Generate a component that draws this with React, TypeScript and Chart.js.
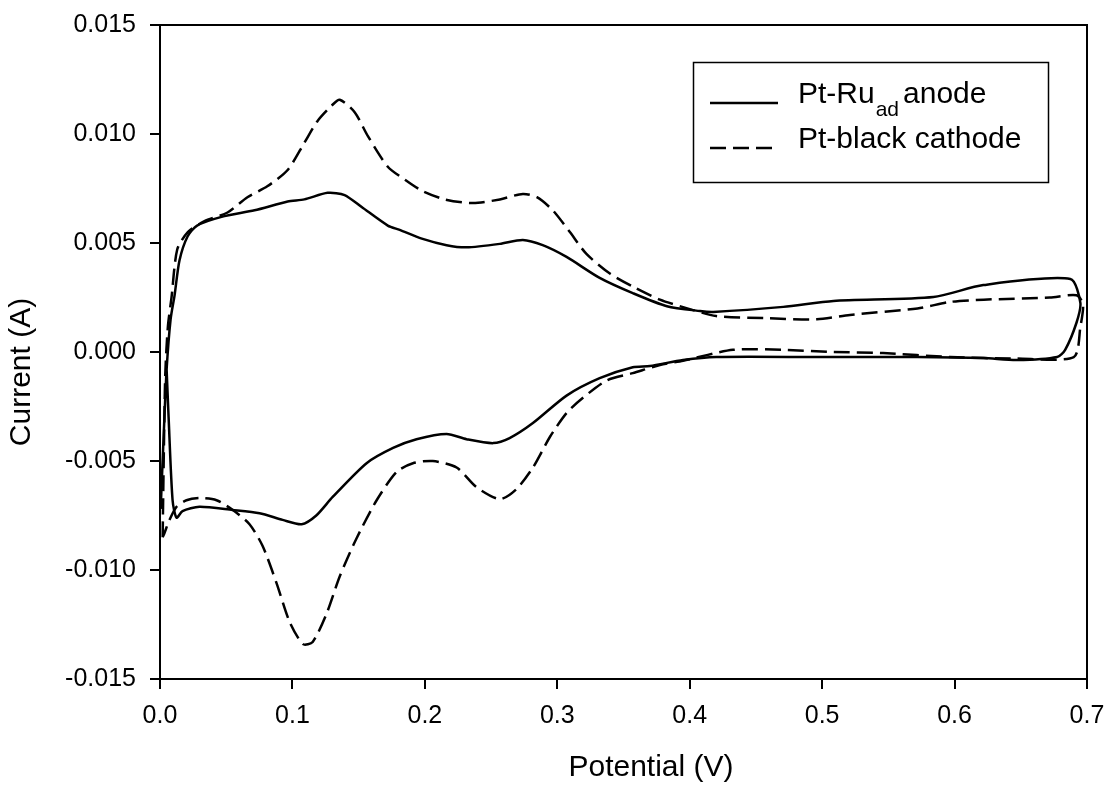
import React, { useEffect, useRef } from "react";
import { Chart, registerables } from "chart.js";

Chart.register(...registerables);

const FONT = '"Liberation Sans", Arial, Helvetica, sans-serif';

const xTickValues = [0, 0.1, 0.2, 0.3, 0.4, 0.5, 0.6, 0.7];
const xTickLabels = ["0.0", "0.1", "0.2", "0.3", "0.4", "0.5", "0.6", "0.7"];
const yTickValues = [-0.015, -0.01, -0.005, 0, 0.005, 0.01, 0.015];
const yTickLabels = ["-0.015", "-0.010", "-0.005", "0.000", "0.005", "0.010", "0.015"];

const xTitle = "Potential (V)";
const yTitle = "Current (A)";

// Pt-Ru_ad anode (solid) : upper (anodic) branch then lower (cathodic) branch
const solidX = [
  0.0005, 0.003, 0.005, 0.008, 0.011, 0.0147, 0.0208, 0.028, 0.0465, 0.0714,
  0.0964, 0.109, 0.1266, 0.1394, 0.1523, 0.172, 0.181, 0.1977, 0.2164, 0.2315,
  0.2566, 0.274, 0.289, 0.307, 0.332, 0.357, 0.3828, 0.4078, 0.4177, 0.4707,
  0.5085, 0.584, 0.6217, 0.6874, 0.695, 0.692, 0.6835, 0.6775,
  0.647, 0.622, 0.5717, 0.496, 0.42, 0.395, 0.37, 0.357, 0.332, 0.307,
  0.2816, 0.264, 0.2516, 0.2315, 0.2164, 0.1937, 0.176, 0.156, 0.1304, 0.118,
  0.107, 0.0926, 0.0752, 0.0548, 0.0298, 0.017, 0.0125, 0.0095, 0.0065, 0.005,
];
const solidY = [
  -0.0072, -0.0035, -0.0008, 0.0015, 0.0026, 0.0042, 0.0053, 0.0058, 0.0062, 0.0065,
  0.0069, 0.007, 0.0073, 0.0072, 0.00665, 0.0058, 0.0056, 0.0052, 0.0049, 0.0048,
  0.00496, 0.00514, 0.0049, 0.00436, 0.0034, 0.0027, 0.0021, 0.00188, 0.00184, 0.00207,
  0.00234, 0.00252, 0.00307, 0.00335, 0.00225, 0.00133, 0.0001, -0.00023,
  -0.00037, -0.00028, -0.00023, -0.00023, -0.00023, -0.00037, -0.00064, -0.0007, -0.0012, -0.002,
  -0.00326, -0.00395, -0.00418, -0.004, -0.00376, -0.004, -0.0044, -0.0051, -0.00665, -0.0075,
  -0.0079, -0.0077, -0.0074, -0.00725, -0.0071, -0.0073, -0.0076, -0.0068, -0.003, -0.0008,
];

// Pt-black cathode (dashed)
const dashedX = [
  0.002, 0.0028, 0.004, 0.006, 0.0087, 0.013, 0.021, 0.0336, 0.051, 0.066,
  0.081, 0.0964, 0.109, 0.119, 0.1296, 0.1357, 0.147, 0.157, 0.172, 0.185,
  0.1977, 0.215, 0.2365, 0.2566, 0.274, 0.2846, 0.2966, 0.3095, 0.322, 0.3397,
  0.357, 0.3775, 0.395, 0.42, 0.458, 0.496, 0.521, 0.572, 0.597, 0.622,
  0.672, 0.692, 0.697, 0.695, 0.69,
  0.647, 0.5968, 0.546, 0.5085, 0.4707, 0.4327, 0.395, 0.3775, 0.357, 0.3375,
  0.3194, 0.307, 0.2944, 0.2816, 0.269, 0.2566, 0.239, 0.224, 0.206, 0.191,
  0.1787, 0.1636, 0.148, 0.1357, 0.1258, 0.1153, 0.108, 0.098, 0.088, 0.0775,
  0.0676, 0.055, 0.0427, 0.03, 0.02, 0.0125, 0.0072, 0.0034, 0.002,
];
const dashedY = [
  -0.0085, -0.005, -0.001, 0.0012, 0.0025, 0.0047, 0.0055, 0.006, 0.0064, 0.0071,
  0.0076, 0.00835, 0.0096, 0.0106, 0.0113, 0.01157, 0.011, 0.0099, 0.0085, 0.0079,
  0.0074, 0.007, 0.00683, 0.007, 0.00725, 0.0071, 0.0065, 0.0055, 0.0045, 0.0036,
  0.003, 0.0024, 0.00206, 0.00165, 0.00155, 0.0015, 0.0017, 0.002, 0.0023, 0.0024,
  0.0025, 0.0026, 0.0022, 0.00115, -0.00023,
  -0.0003, -0.00023, -0.00005, 0.0, 0.0001, 0.0001, -0.0004, -0.0006, -0.00097, -0.0013,
  -0.0021, -0.0028, -0.0039, -0.0053, -0.0063, -0.00675, -0.0062, -0.0053, -0.005, -0.0051,
  -0.0055, -0.0068, -0.0086, -0.0103, -0.012, -0.0133, -0.0134, -0.0124, -0.0106, -0.0089,
  -0.0079, -0.00725, -0.0068, -0.0067, -0.0068, -0.0071, -0.0077, -0.0083, -0.0085,
];

const legendEntries = [
  { main: "Pt-Ru", sub: "ad", rest: "anode" },
  { main: "Pt-black cathode", sub: "", rest: "" },
];

const toPoints = (xs: number[], ys: number[]) => xs.map((x, i) => ({ x, y: ys[i] }));

const labelFor = (vals: number[], labels: string[]) => (v: number | string) => {
  const n = Number(v);
  const i = vals.findIndex((t) => Math.abs(t - n) < 1e-9);
  return i >= 0 ? labels[i] : "";
};

export default function App() {
  const ref = useRef<HTMLCanvasElement>(null);

  useEffect(() => {
    if (!ref.current) return;

    const framePlugin = {
      id: "frame",
      afterDatasetsDraw(chart: any) {
        const { ctx, chartArea: a } = chart;
        ctx.save();
        ctx.strokeStyle = "#000";
        ctx.lineWidth = 2;
        ctx.strokeRect(a.left, a.top, a.right - a.left, a.bottom - a.top);
        ctx.restore();
      },
    };

    const legendPlugin = {
      id: "boxLegend",
      afterDraw(chart: any) {
        const ctx = chart.ctx;
        ctx.save();
        ctx.fillStyle = "#fff";
        ctx.fillRect(693, 62, 355, 120);
        ctx.strokeStyle = "#000";
        ctx.lineWidth = 1.5;
        ctx.strokeRect(693.5, 62.5, 355, 120);
        const rows = [103, 148];
        legendEntries.forEach((e, i) => {
          const ds = chart.data.datasets[i];
          const y = rows[i];
          ctx.strokeStyle = ds.borderColor;
          ctx.lineWidth = ds.borderWidth;
          ctx.setLineDash(ds.borderDash || []);
          ctx.beginPath();
          ctx.moveTo(710, y);
          ctx.lineTo(778, y);
          ctx.stroke();
          ctx.setLineDash([]);
          ctx.fillStyle = "#000";
          ctx.textBaseline = "alphabetic";
          ctx.textAlign = "left";
          ctx.font = `30px ${FONT}`;
          let x = 798;
          ctx.fillText(e.main, x, y);
          x += ctx.measureText(e.main).width;
          if (e.sub) {
            ctx.font = `21px ${FONT}`;
            ctx.fillText(e.sub, x + 1, y + 13);
            x += ctx.measureText(e.sub).width + 1 + 4;
          }
          if (e.rest) {
            ctx.font = `30px ${FONT}`;
            ctx.fillText(e.rest, x, y);
          }
        });
        ctx.restore();
      },
    };

    const titlePlugin = {
      id: "axisTitles",
      afterDraw(chart: any) {
        const ctx = chart.ctx;
        ctx.save();
        ctx.fillStyle = "#000";
        ctx.font = `30px ${FONT}`;
        ctx.textAlign = "center";
        ctx.textBaseline = "middle";
        ctx.fillText(xTitle, 651, 768);
        ctx.translate(22, 372);
        ctx.rotate(-Math.PI / 2);
        ctx.fillText(yTitle, 0, 0);
        ctx.restore();
      },
    };

    const tickFont = { family: FONT, size: 25 };

    const chart = new Chart(ref.current, {
      type: "scatter",
      data: {
        datasets: [
          {
            label: "Pt-Ru ad anode",
            data: toPoints(solidX, solidY),
            showLine: true,
            borderColor: "#000",
            backgroundColor: "#000",
            borderWidth: 2.5,
            pointRadius: 0,
            tension: 0.25,
            fill: false,
          },
          {
            label: "Pt-black cathode",
            data: toPoints(dashedX, dashedY),
            showLine: true,
            borderColor: "#000",
            backgroundColor: "#000",
            borderWidth: 2.5,
            borderDash: [16, 7],
            pointRadius: 0,
            tension: 0.25,
            fill: false,
          },
        ],
      },
      options: {
        responsive: false,
        animation: false,
        layout: { padding: { left: 0, top: 25, right: 17, bottom: 0 } },
        plugins: { legend: { display: false }, tooltip: { enabled: false } },
        scales: {
          x: {
            type: "linear",
            min: 0,
            max: 0.7,
            afterBuildTicks: (s: any) => {
              s.ticks = xTickValues.map((v) => ({ value: v }));
            },
            afterFit: (s: any) => {
              s.height = 107;
              s.paddingLeft = 0;
              s.paddingRight = 0;
            },
            ticks: {
              callback: labelFor(xTickValues, xTickLabels),
              font: tickFont,
              color: "#000",
              padding: 12,
              maxRotation: 0,
              autoSkip: false,
            },
            grid: {
              drawOnChartArea: false,
              drawTicks: true,
              tickLength: 10,
              color: "#000",
              lineWidth: 2,
            },
            border: { display: true, color: "#000", width: 2 },
          },
          y: {
            type: "linear",
            min: -0.015,
            max: 0.015,
            afterBuildTicks: (s: any) => {
              s.ticks = yTickValues.map((v) => ({ value: v }));
            },
            afterFit: (s: any) => {
              s.width = 160;
              s.paddingTop = 0;
              s.paddingBottom = 0;
            },
            ticks: {
              callback: labelFor(yTickValues, yTickLabels),
              font: tickFont,
              color: "#000",
              padding: 14,
              autoSkip: false,
            },
            grid: {
              drawOnChartArea: false,
              drawTicks: true,
              tickLength: 10,
              color: "#000",
              lineWidth: 2,
            },
            border: { display: true, color: "#000", width: 2 },
          },
        },
      },
      plugins: [framePlugin, legendPlugin, titlePlugin],
    } as any);

    return () => chart.destroy();
  }, []);

  return (
    <div
      style={{
        position: "fixed",
        left: 0,
        top: 0,
        width: 1104,
        height: 786,
        background: "#fff",
      }}
    >
      <canvas ref={ref} width={1104} height={786} style={{ display: "block" }} />
    </div>
  );
}
